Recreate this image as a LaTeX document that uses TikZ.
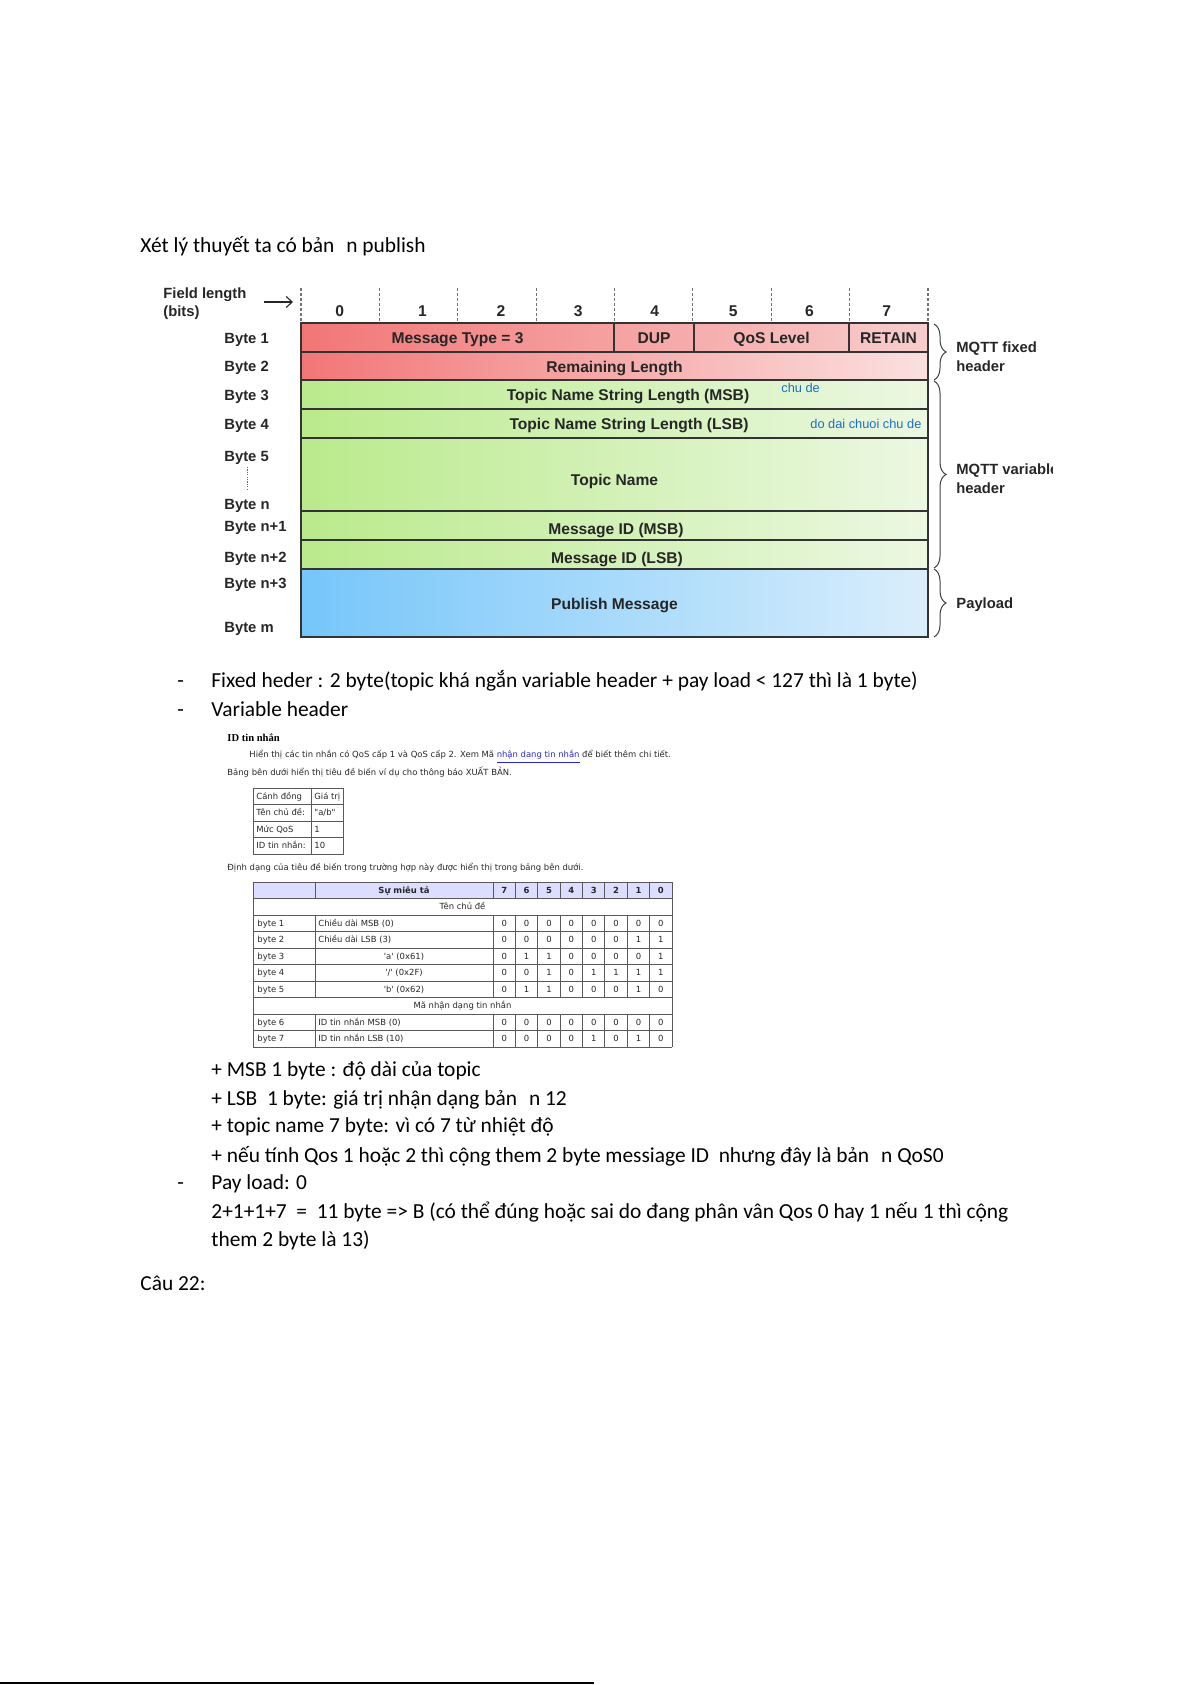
\documentclass[tikz,border=0pt]{standalone}
\usepackage{fontspec}
\setmainfont{Carlito}
\newfontfamily\arialf{Liberation Sans}
\newfontfamily\verdf{DejaVu Sans}
\newfontfamily\timesf{Liberation Serif}
\usetikzlibrary{decorations.pathreplacing,arrows.meta}
\definecolor{redL}{RGB}{242,118,118}
\definecolor{redR}{RGB}{248,205,205}
\definecolor{red2R}{RGB}{251,224,224}
\definecolor{grnL}{RGB}{186,234,140}
\definecolor{grnR}{RGB}{236,248,226}
\definecolor{bluL}{RGB}{118,198,250}
\definecolor{bluR}{RGB}{218,238,252}
\definecolor{annot}{RGB}{30,110,200}
\definecolor{hdrfill}{RGB}{221,221,255}
\definecolor{linkblue}{RGB}{40,40,210}
\begin{document}
\begin{tikzpicture}[x=0.5pt,y=-0.5pt,
  body/.style={anchor=base west, inner sep=0, font=\fontsize{10.7}{13}\selectfont},
  dlab/.style={anchor=base west, inner sep=0, font=\arialf\bfseries\fontsize{7.4}{9}\selectfont, text=black!85},
  dtxt/.style={anchor=base, inner sep=0, font=\arialf\bfseries\fontsize{7.8}{9}\selectfont, text=black!85},
  ann/.style={anchor=base west, inner sep=0, font=\arialf\fontsize{6.4}{7.5}\selectfont, text=annot},
  sm/.style={anchor=base west, inner sep=0, font=\verdf\fontsize{4.22}{5}\selectfont, text=black!85},
  smc/.style={sm, anchor=base},
  smb/.style={smc, font=\verdf\bfseries\fontsize{4.22}{5}\selectfont},
  rowline/.style={draw=black!80, line width=1pt},
  tline/.style={draw=black!65, line width=0.5pt},
  bitdash/.style={draw=black!55, line width=0.6pt, dash pattern=on 1.5pt off 1pt},
  mybrace/.style={draw=black!75, line width=0.5pt, decorate, decoration={brace, amplitude=6pt}},
]
\useasboundingbox (0,0) rectangle (1191,1685);

% ---------- heading ----------
\node[body] (head) at (140,253) {Xét lý thuyết ta có bản\hspace{6pt}n publish};

% ---------- MQTT diagram ----------
\shade[left color=redL, right color=redR] (301,323) rectangle (928,352);
\shade[left color=redL, right color=red2R] (301,352) rectangle (928,380);
\shade[left color=grnL, right color=grnR] (301,380) rectangle (928,409);
\shade[left color=grnL, right color=grnR] (301,409) rectangle (928,438);
\shade[left color=grnL, right color=grnR] (301,438) rectangle (928,511);
\shade[left color=grnL, right color=grnR] (301,511) rectangle (928,540);
\shade[left color=grnL, right color=grnR] (301,540) rectangle (928,569);
\shade[left color=bluL, right color=bluR] (301,569) rectangle (928,637);
\foreach \y in {352,380,409,438,511,540,569} \draw[rowline] (301,\y) -- (928,\y);
\foreach \x in {614,694,849} \draw[rowline] (\x,323) -- (\x,352);
\draw[rowline] (301,323) rectangle (928,637);

\foreach \i in {0,...,8} \draw[bitdash] ({301+78.375*\i},288) -- ({301+78.375*\i},323);
\foreach \i/\bx in {0/339.7,1/422.4,2/500.9,3/578.3,4/654.6,5/733.1,6/809.4,7/886.8}
  \node[dtxt] (bit\i) at (\bx,316) {\i};

\node[dlab] (fl1) at (163,299) {Field length};
\node[dlab] (fl2) at (163,316) {(bits)};
\coordinate (ar1) at (264,302);
\coordinate (ar2) at (293,302);
\draw[-{Straight Barb[length=3pt,width=5.5pt]}, line width=0.55pt, black!85] (ar1) -- (ar2);

\node[dtxt] (mt) at (457.5,343.5) {Message Type = 3};
\node[dtxt] (dup) at (654,343.5) {DUP};
\node[dtxt] (qos) at (771.5,343.5) {QoS Level};
\node[dtxt] (ret) at (888.5,343.5) {RETAIN};
\node[dtxt] (rl) at (614.5,372) {Remaining Length};
\node[dtxt] (tm) at (628,400.5) {Topic Name String Length (MSB)};
\node[dtxt] (tl) at (629,429.5) {Topic Name String Length (LSB)};
\node[dtxt] (tn) at (614.5,485) {Topic Name};
\node[dtxt] (mm) at (616,534.5) {Message ID (MSB)};
\node[dtxt] (ml) at (617,563) {Message ID (LSB)};
\node[dtxt] (pm) at (614.5,609.5) {Publish Message};

\node[ann] (cd) at (781,392) {chu de};
\begin{scope}
\clip (800,410) rectangle (929,437);
\node[ann] (dd) at (810,428) {do dai chuoi chu de};
\end{scope}

\node[dlab] (b1) at (224,343.5) {Byte 1};
\node[dlab] (b2) at (224,371) {Byte 2};
\node[dlab] (b3) at (224,400) {Byte 3};
\node[dlab] (b4) at (224,429) {Byte 4};
\node[dlab] (b5) at (224,461) {Byte 5};
\coordinate (vd1) at (247,467);
\coordinate (vd2) at (247,490);
\draw[black!60, line width=0.5pt, dash pattern=on 0.6pt off 0.6pt] (vd1) -- (vd2);
\node[dlab] (bn) at (224,509.5) {Byte n};
\node[dlab] (bn1) at (224,531.5) {Byte n+1};
\node[dlab] (bn2) at (224,562) {Byte n+2};
\node[dlab] (bn3) at (224,588) {Byte n+3};
\node[dlab] (bm) at (224,632.5) {Byte m};

\coordinate (br1a) at (934,324);
\coordinate (br1b) at (934,380);
\coordinate (br2a) at (934,381);
\coordinate (br2b) at (934,568);
\coordinate (br3a) at (934,569);
\coordinate (br3b) at (934,637);
\draw[mybrace] (br1a) -- (br1b);
\draw[mybrace] (br2a) -- (br2b);
\draw[mybrace] (br3a) -- (br3b);
\node[dlab] (fx1) at (956,352.5) {MQTT fixed};
\node[dlab] (fx2) at (956,371) {header};
\begin{scope}
\clip (950,455) rectangle (1052,500);
\node[dlab] (vr1) at (956,474.5) {MQTT variable};
\end{scope}
\node[dlab] (vr2) at (956,493) {header};
\node[dlab] (pl) at (956,608.5) {Payload};

% ---------- body text ----------
\node[body] (d1) at (177,687) {-};
\node[body] (t1) at (211,687) {Fixed heder : 2 byte(topic khá ngắn variable header + pay load < 127 thì là 1 byte)};
\node[body] (d2) at (177,716) {-};
\node[body] (t2) at (211,716) {Variable header};

% ---------- screenshot: ID tin nhan ----------
\node[anchor=base west, inner sep=0, font=\timesf\bfseries\fontsize{5.3}{6}\selectfont] (idt) at (227,741) {ID tin nhắn};
\node[sm] (s1) at (249,757.5) {Hiển thị các tin nhắn có QoS cấp 1 và QoS cấp 2. Xem Mã \textcolor{linkblue}{\underline{nhận dang tin nhắn}} để biết thêm chi tiết.};
\node[sm] (s2) at (227,775.5) {Bảng bên dưới hiển thị tiêu đề biến ví dụ cho thông báo XUẤT BẢN.};

% small table
\draw[tline] (253,788) rectangle (343,854);
\foreach \y in {804.5,821,837.5} \draw[tline] (253,\y) -- (343,\y);
\draw[tline] (311,788) -- (311,854);
\node[sm] (st11) at (256,799) {Cánh đồng};
\node[sm] (st12) at (314,799) {Giá trị};
\node[sm] (st21) at (256,815.5) {Tên chủ đề:};
\node[sm] (st22) at (314,815.5) {\textquotedbl a/b\textquotedbl};
\node[sm] (st31) at (256,832) {Mức QoS};
\node[sm] (st32) at (314,832) {1};
\node[sm] (st41) at (256,848.5) {ID tin nhắn:};
\node[sm] (st42) at (314,848.5) {10};

\node[sm] (s3) at (227,870.5) {Định dạng của tiêu đề biến trong trường hợp này được hiển thị trong bảng bên dưới.};

% big table
\fill[hdrfill] (253,882) rectangle (672,898.5);
\foreach \k in {0,...,10} \draw[tline] (253,{882+16.5*\k}) -- (672,{882+16.5*\k});
\draw[tline] (253,882) -- (253,1047);
\draw[tline] (672,882) -- (672,1047);
\foreach \x in {315,493,515.375,537.75,560.125,582.5,604.875,627.25,649.625} {
  \draw[tline] (\x,882) -- (\x,898.5);
  \draw[tline] (\x,915) -- (\x,997.5);
  \draw[tline] (\x,1014) -- (\x,1047);
}
\node[smb] (hd) at (404,893) {Sự miêu tả};
\foreach \b [count=\c from 0] in {7,6,5,4,3,2,1,0}
  \node[smb] (hb\c) at ({493+22.375*(\c+0.5)},893) {\b};
\node[smc] (span1) at (462.5,909.5) {Tên chủ đề};
\node[smc] (span2) at (462.5,1008) {Mã nhận dạng tin nhắn};

\foreach \k/\lab/\desc/\bits in {
   2/{byte 1}/{Chiều dài MSB (0)}/{0,0,0,0,0,0,0,0},
   3/{byte 2}/{Chiều dài LSB (3)}/{0,0,0,0,0,0,1,1},
   8/{byte 6}/{ID tin nhắn MSB (0)}/{0,0,0,0,0,0,0,0},
   9/{byte 7}/{ID tin nhắn LSB (10)}/{0,0,0,0,1,0,1,0}} {
  \node[sm] (rl\k) at (257,{882+16.5*(\k+0.5)+2.8}) {\lab};
  \node[sm] (rd\k) at (318,{882+16.5*(\k+0.5)+2.8}) {\desc};
  \foreach \v [count=\c from 0] in \bits
    \node[smc] (rv\k-\c) at ({493+22.375*(\c+0.5)},{882+16.5*(\k+0.5)+2.8}) {\v};
}
\foreach \k/\lab/\desc/\bits in {
   4/{byte 3}/{\textquotesingle a\textquotesingle{} (0x61)}/{0,1,1,0,0,0,0,1},
   5/{byte 4}/{\textquotesingle{}\slash\textquotesingle{} (0x2F)}/{0,0,1,0,1,1,1,1},
   6/{byte 5}/{\textquotesingle b\textquotesingle{} (0x62)}/{0,1,1,0,0,0,1,0}} {
  \node[sm] (rl\k) at (257,{882+16.5*(\k+0.5)+2.8}) {\lab};
  \node[smc] (rd\k) at (404,{882+16.5*(\k+0.5)+2.8}) {\desc};
  \foreach \v [count=\c from 0] in \bits
    \node[smc] (rv\k-\c) at ({493+22.375*(\c+0.5)},{882+16.5*(\k+0.5)+2.8}) {\v};
}

% ---------- lower body text ----------
\node[body] (p1) at (211,1076) {+ MSB 1 byte : độ dài của topic};
\node[body] (p2) at (211,1105) {+ LSB\ \ 1 byte: giá trị nhận dạng bản\hspace{6pt}n 12};
\node[body] (p3) at (211,1132) {+ topic name 7 byte: vì có 7 từ nhiệt độ};
\node[body] (p4) at (211,1162) {+ nếu tính Qos 1 hoặc 2 thì cộng them 2 byte messiage ID\ \ nhưng đây là bản\hspace{6pt}n QoS0};
\node[body] (d3) at (177,1189) {-};
\node[body] (p5) at (211,1189) {Pay load: 0};
\node[body] (p6) at (211,1218) {2+1+1+7\ \ =\ \ 11 byte => B (có thể đúng hoặc sai do đang phân vân Qos 0 hay 1 nếu 1 thì cộng};
\node[body] (p7) at (211,1246) {them 2 byte là 13)};
\node[body] (c22) at (140,1290) {Câu 22:};

% ---------- footer line ----------
\coordinate (fl0) at (0,1683);
\coordinate (fl9) at (594,1683);
\draw[line width=1pt] (fl0) -- (fl9);
\end{tikzpicture}
\end{document}
